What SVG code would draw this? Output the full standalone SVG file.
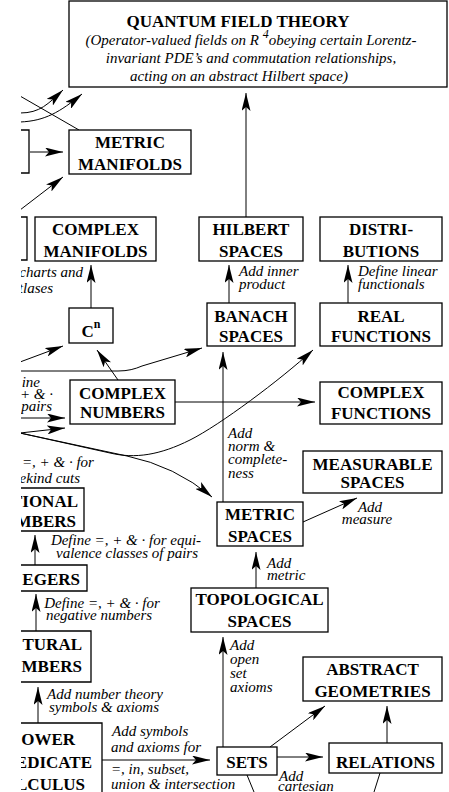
<svg xmlns="http://www.w3.org/2000/svg" width="449" height="792" viewBox="0 0 449 792">
<style>
.box{fill:#fff;stroke:#000;stroke-width:1.3}
.pb{fill:none;stroke:#000;stroke-width:1.3}
.b{font-family:"Liberation Serif",serif;font-weight:bold;font-size:17px;text-anchor:middle;fill:#000}
.be{font-family:"Liberation Serif",serif;font-weight:bold;font-size:17px;text-anchor:end;fill:#000}
.i{font-family:"Liberation Serif",serif;font-style:italic;font-size:15px;fill:#000}
.im{font-family:"Liberation Serif",serif;font-style:italic;font-size:15px;fill:#000;text-anchor:middle}
.ie{font-family:"Liberation Serif",serif;font-style:italic;font-size:15px;fill:#000;text-anchor:end}
.ln{fill:none;stroke:#000;stroke-width:1}
.a{marker-end:url(#ah)}
</style>
<defs>
<marker id="ah" markerUnits="userSpaceOnUse" markerWidth="19" markerHeight="9" viewBox="0 0 19 9" refX="18" refY="4.5" orient="auto">
<path d="M0,0 L18,4.5 L0,9 L4,4.5 z" fill="#000"/>
</marker>
<clipPath id="cl"><rect x="21" y="0" width="428" height="792"/></clipPath>
</defs>
<rect width="449" height="792" fill="#fff"/>
<g clip-path="url(#cl)">
<g id="connectors">
<path class="ln a" d="M246,217 L246,93"/>
<path class="ln a" d="M20,113 C40,113 48,104 63,90"/>
<path class="ln a" d="M20,122 C45,121 60,112 82,94"/>
<path class="ln" d="M20,96 L79,130"/>
<path class="ln a" d="M30,152 L63,152"/>
<path class="ln a" d="M20,210 L63,177"/>
<path class="ln a" d="M91,308 L91,265"/>
<path class="ln a" d="M229,303 L229,265"/>
<path class="ln a" d="M348,303 L348,265"/>
<path class="ln a" d="M20,362 L63,346"/>
<path class="ln a" d="M118,380 L97,350"/>
<path class="ln a" d="M20,371 L118,371 C128,371 135,369 142,366 L202,348"/>
<path class="ln a" d="M175,402 L315,402"/>
<path class="ln a" d="M223,502 L223,352"/>
<path class="ln a" d="M20,418 L65,418"/>
<path class="ln a" d="M20,433 L65,428"/>
<path class="ln a" d="M20,433 L127,456 Q175,466 212,497"/>
<path class="ln a" d="M20,433 L110,453 C135,459 160,455 190,440 S280,380 313,350"/>
<path class="ln a" d="M35,565 L35,535"/>
<path class="ln a" d="M36,631 L36,594"/>
<path class="ln a" d="M38,723 L38,687"/>
<path class="ln a" d="M102,760 L210,760"/>
<path class="ln a" d="M223,747 L223,637"/>
<path class="ln a" d="M256,588 L256,552"/>
<path class="ln a" d="M303,522 L357,498"/>
<path class="ln a" d="M270,747 L325,706"/>
<path class="ln a" d="M277,757 L323,757"/>
<path class="ln a" d="M387,743 L387,706"/>
<path class="ln" d="M247,775 L254,792"/>
<path class="ln" d="M380,773 L374,792"/>
</g>
<g id="qft">
<rect class="box" x="69" y="1" width="378" height="86"/>
<text class="b" x="238" y="27">QUANTUM FIELD THEORY</text>
<text class="im" x="251" y="45">(Operator-valued fields on R <tspan dy="-7" font-size="12">4</tspan><tspan dy="7">obeying certain Lorentz-</tspan></text>
<text class="im" x="251" y="63">invariant PDE’s and commutation relationships,</text>
<text class="im" x="239" y="81">acting on an abstract Hilbert space)</text>
</g>
<g id="left-box-1"><path class="pb" d="M0,130 H29 V173 H0"/></g>
<g id="metric-manifolds">
<rect class="box" x="69" y="130" width="122" height="44"/>
<text class="b" x="130" y="148">METRIC</text>
<text class="b" x="130" y="170">MANIFOLDS</text>
</g>
<g id="left-box-2"><path class="pb" d="M0,217 H27 V260 H0"/></g>
<g id="complex-manifolds">
<rect class="box" x="35" y="217" width="121" height="44"/>
<text class="b" x="95.5" y="235">COMPLEX</text>
<text class="b" x="95.5" y="257">MANIFOLDS</text>
</g>
<g id="label-charts">
<text class="ie" x="83" y="277">charts and</text>
<text class="ie" x="53" y="293">tlases</text>
</g>
<g id="hilbert">
<rect class="box" x="199" y="217" width="104" height="44"/>
<text class="b" x="251" y="235">HILBERT</text>
<text class="b" x="251" y="257">SPACES</text>
</g>
<g id="distributions">
<rect class="box" x="320" y="217" width="122" height="44"/>
<text class="b" x="381" y="235">DISTRI-</text>
<text class="b" x="381" y="257">BUTIONS</text>
</g>
<g id="label-inner">
<text class="i" x="239" y="276">Add inner</text>
<text class="i" x="239" y="289">product</text>
</g>
<g id="label-linear">
<text class="i" x="358" y="276">Define linear</text>
<text class="i" x="358" y="289">functionals</text>
</g>
<g id="cn">
<rect class="box" x="69" y="308" width="44" height="35"/>
<text class="b" x="91" y="337">C<tspan dy="-9" font-size="12">n</tspan></text>
</g>
<g id="banach">
<rect class="box" x="207" y="303" width="88" height="43"/>
<text class="b" x="251" y="322">BANACH</text>
<text class="b" x="251" y="342">SPACES</text>
</g>
<g id="real-functions">
<rect class="box" x="320" y="303" width="122" height="43"/>
<text class="b" x="381" y="322">REAL</text>
<text class="b" x="381" y="342">FUNCTIONS</text>
</g>
<g id="label-pairs">
<text class="ie" x="40" y="387">ine</text>
<text class="ie" x="53" y="399">+ &amp; ·</text>
<text class="ie" x="52" y="411">pairs</text>
</g>
<g id="complex-numbers">
<rect class="box" x="70" y="380" width="105" height="44"/>
<text class="b" x="122.5" y="399">COMPLEX</text>
<text class="b" x="122.5" y="418">NUMBERS</text>
</g>
<g id="complex-functions">
<rect class="box" x="320" y="382" width="122" height="42"/>
<text class="b" x="381" y="398">COMPLEX</text>
<text class="b" x="381" y="419">FUNCTIONS</text>
</g>
<g id="label-norm">
<text class="i" x="228" y="438">Add</text>
<text class="i" x="228" y="451">norm &amp;</text>
<text class="i" x="228" y="464">complete-</text>
<text class="i" x="228" y="478">ness</text>
</g>
<g id="measurable">
<rect class="box" x="303" y="451" width="139" height="42"/>
<text class="b" x="372.5" y="470">MEASURABLE</text>
<text class="b" x="372.5" y="488">SPACES</text>
</g>
<g id="label-dedekind">
<text class="i" x="22" y="467">=, + &amp; · for</text>
<text class="ie" x="80" y="483">ekind cuts</text>
</g>
<g id="rational">
<path class="pb" d="M0,488 H84 V531 H0"/>
<text class="be" x="78" y="507">TIONAL</text>
<text class="be" x="76" y="527">MBERS</text>
</g>
<g id="metric-spaces">
<rect class="box" x="217" y="502" width="86" height="44"/>
<text class="b" x="260" y="520">METRIC</text>
<text class="b" x="260" y="542">SPACES</text>
</g>
<g id="label-measure">
<text class="im" x="370" y="512">Add</text>
<text class="im" x="367" y="524">measure</text>
</g>
<g id="label-equi">
<text class="im" x="126" y="545">Define =, + &amp; · for equi-</text>
<text class="im" x="127" y="558">valence classes of pairs</text>
</g>
<g id="label-metric">
<text class="i" x="267" y="568">Add</text>
<text class="i" x="267" y="580">metric</text>
</g>
<g id="integers">
<path class="pb" d="M0,565 H87 V591 H0"/>
<text class="be" x="80" y="585">EGERS</text>
</g>
<g id="topological">
<rect class="box" x="191" y="588" width="137" height="44"/>
<text class="b" x="259.5" y="605">TOPOLOGICAL</text>
<text class="b" x="259.5" y="627">SPACES</text>
</g>
<g id="label-negative">
<text class="im" x="102" y="608">Define =, + &amp; · for</text>
<text class="im" x="99" y="620">negative numbers</text>
</g>
<g id="natural">
<path class="pb" d="M0,631 H91 V682 H0"/>
<text class="be" x="82" y="650">TURAL</text>
<text class="be" x="82" y="672">MBERS</text>
</g>
<g id="label-open">
<text class="i" x="230" y="650">Add</text>
<text class="i" x="230" y="664">open</text>
<text class="i" x="230" y="678">set</text>
<text class="i" x="230" y="692">axioms</text>
</g>
<g id="abstract">
<rect class="box" x="303" y="657" width="139" height="44"/>
<text class="b" x="372.5" y="675">ABSTRACT</text>
<text class="b" x="372.5" y="697">GEOMETRIES</text>
</g>
<g id="label-number-theory">
<text class="im" x="105" y="699">Add number theory</text>
<text class="im" x="104" y="712">symbols &amp; axioms</text>
</g>
<g id="lpc">
<path class="pb" d="M0,723 H102 V792"/>
<text class="be" x="75" y="745">OWER</text>
<text class="be" x="92" y="768">EDICATE</text>
<text class="be" x="85" y="790">LCULUS</text>
</g>
<g id="label-symbols">
<text class="i" x="112" y="736">Add symbols</text>
<text class="i" x="111" y="752">and axioms for</text>
<text class="i" x="111" y="774">=, in, subset,</text>
<text class="i" x="111" y="789">union &amp; intersection</text>
</g>
<g id="sets">
<rect class="box" x="217" y="747" width="60" height="28"/>
<text class="b" x="247" y="768">SETS</text>
</g>
<g id="relations">
<rect class="box" x="329" y="743" width="113" height="30"/>
<text class="b" x="385.5" y="768">RELATIONS</text>
</g>
<g id="label-cartesian">
<text class="i" x="279" y="781">Add</text>
<text class="i" x="278" y="791">cartesian</text>
</g>
</g>
</svg>
